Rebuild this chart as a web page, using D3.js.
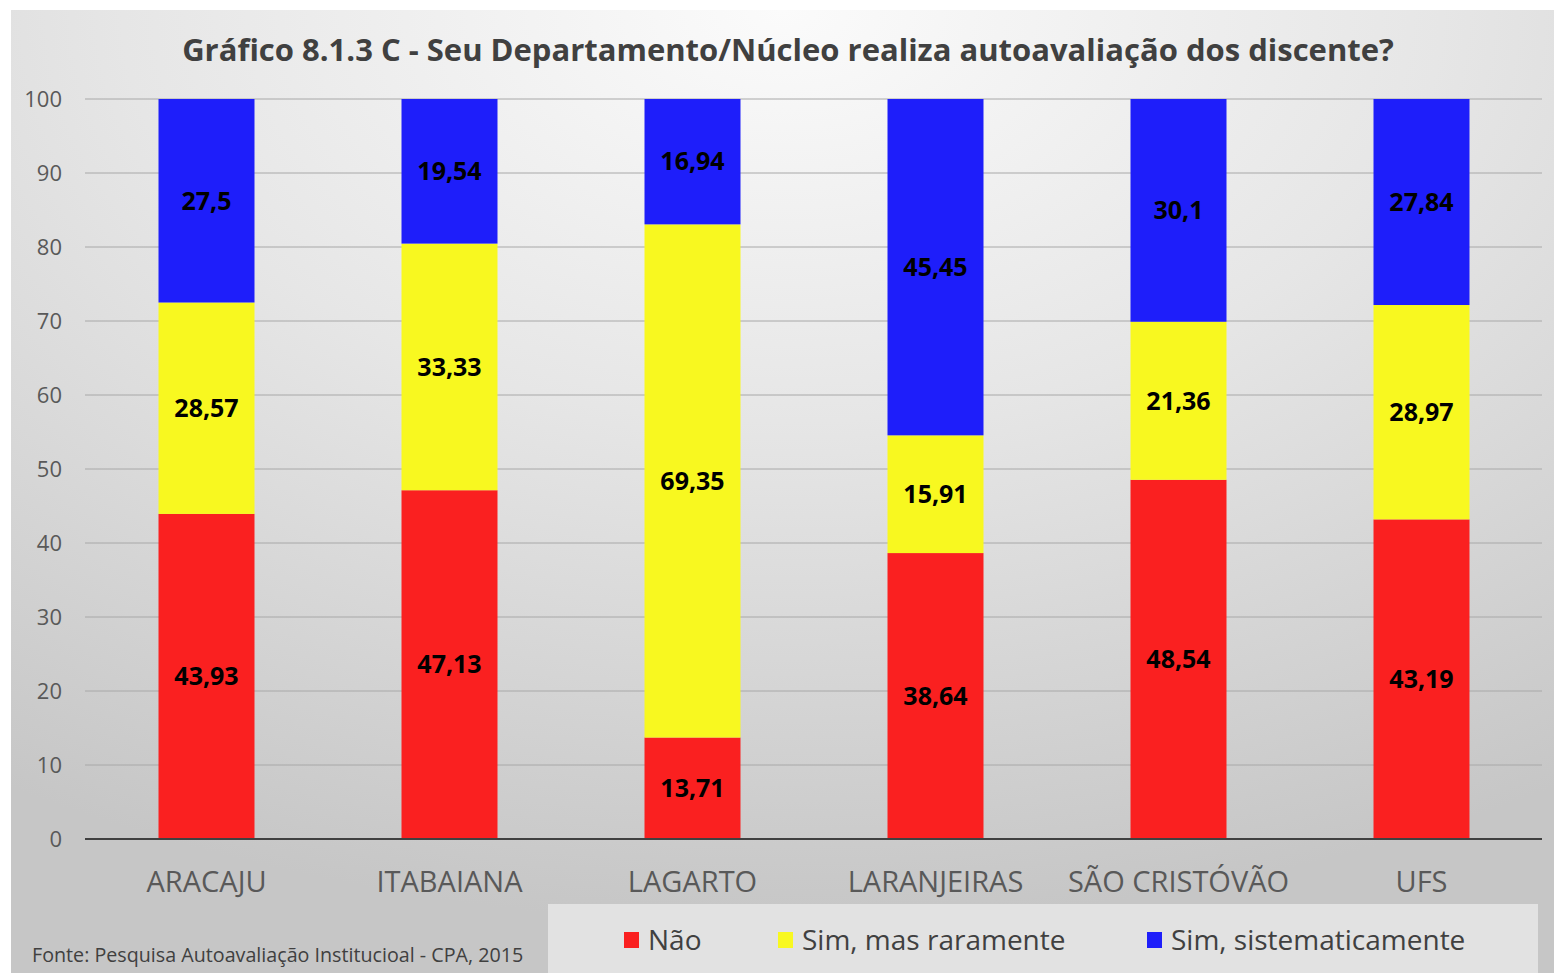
<!DOCTYPE html>
<html>
<head>
<meta charset="utf-8">
<script src="https://cdn.jsdelivr.net/npm/d3@7"></script>
<style>
  html, body { margin: 0; padding: 0; background: #ffffff; }
  svg { display: block; }
</style>
</head>
<body>
<script>
// Campus categories and the three answer shares (percent)
const categories = ["ARACAJU", "ITABAIANA", "LAGARTO", "LARANJEIRAS", "SÃO CRISTÓVÃO", "UFS"];
const nao = [43.93, 47.13, 13.71, 38.64, 48.54, 43.19];
const simRaramente = [28.57, 33.33, 69.35, 15.91, 21.36, 28.97];
const simSistematicamente = [27.5, 19.54, 16.94, 45.45, 30.1, 27.84];
const seriesNames = ["Não", "Sim, mas raramente", "Sim, sistematicamente"];
const yTicks = [0, 10, 20, 30, 40, 50, 60, 70, 80, 90, 100];

const W = 1554, H = 973;
const colors = ["#fa2020", "#f8f820", "#1e1efa"];
const font = "'Open Sans', 'Noto Sans', sans-serif";

const svg = d3.select("body").append("svg").attr("width", W).attr("height", H);

// Panel background: soft radial shading
const defs = svg.append("defs");
const grad = defs.append("radialGradient").attr("id", "bg")
  .attr("cx", "50%").attr("cy", "0%").attr("r", "95%")
  .attr("fx", "50%").attr("fy", "0%");
grad.append("stop").attr("offset", "0%").attr("stop-color", "#fbfbfb");
grad.append("stop").attr("offset", "45%").attr("stop-color", "#e6e6e6");
grad.append("stop").attr("offset", "100%").attr("stop-color", "#c6c6c6");

svg.append("rect").attr("x", 11).attr("y", 10).attr("width", W - 11).attr("height", H - 10)
  .attr("fill", "url(#bg)");

const x = d3.scaleBand().domain(categories).range([85, 1543]).paddingInner(0.605).paddingOuter(0.3025);
const y = d3.scaleLinear().domain([0, 100]).range([839, 99]);

// Gridlines
svg.append("g").selectAll("line").data(yTicks.filter(t => t > 0)).join("line")
  .attr("x1", 85).attr("x2", 1542)
  .attr("y1", d => y(d)).attr("y2", d => y(d))
  .attr("stroke", "#a8a8a8").attr("stroke-width", 1);

// Y axis labels
const yAxis = d3.axisLeft(y).tickValues(yTicks).tickSize(0).tickPadding(0);
const gy = svg.append("g").attr("transform", "translate(62,0)").call(yAxis);
gy.select(".domain").remove();
gy.selectAll("text").attr("font-family", font).attr("font-size", 22).attr("fill", "#595959");

// Stacked data
const rows = categories.map((c, i) => ({ cat: c, nao: nao[i], rar: simRaramente[i], sis: simSistematicamente[i] }));
const stack = d3.stack().keys(["nao", "rar", "sis"]);
const layers = stack(rows);

const gBars = svg.append("g");
layers.forEach((layer, li) => {
  gBars.append("g").selectAll("rect").data(layer).join("rect")
    .attr("x", d => x(d.data.cat))
    .attr("width", x.bandwidth())
    .attr("y", d => y(d[1]))
    .attr("height", d => y(d[0]) - y(d[1]))
    .attr("fill", colors[li]);
});

// Value labels, centred in each segment
layers.forEach(layer => {
  svg.append("g").selectAll("text").data(layer).join("text")
    .attr("x", d => x(d.data.cat) + x.bandwidth() / 2)
    .attr("y", d => y((d[0] + d[1]) / 2))
    .attr("dy", "0.35em")
    .attr("text-anchor", "middle")
    .attr("font-family", font).attr("font-weight", "bold").attr("font-size", 25)
    .attr("fill", "#000")
    .text(d => String(d.data[layer.key]).replace(".", ","));
});

// Baseline
svg.append("line").attr("x1", 85).attr("x2", 1542).attr("y1", y(0)).attr("y2", y(0))
  .attr("stroke", "#404040").attr("stroke-width", 2);

// Category axis labels
const xAxis = d3.axisBottom(x).tickSize(0).tickPadding(0);
const gx = svg.append("g").attr("transform", "translate(0,882)").call(xAxis);
gx.select(".domain").remove();
gx.selectAll("text").attr("dy", "0.35em").attr("font-family", font).attr("font-size", 29).attr("fill", "#595959");

// Title
svg.append("text").attr("x", 788).attr("y", 50).attr("dy", "0.35em")
  .attr("text-anchor", "middle").attr("font-family", font).attr("font-weight", "bold")
  .attr("font-size", 31).attr("fill", "#404040")
  .text("Gráfico 8.1.3 C - Seu Departamento/Núcleo realiza autoavaliação dos discente?");

// Legend panel
svg.append("rect").attr("x", 548).attr("y", 904).attr("width", 990).attr("height", 69).attr("fill", "#e2e2e2");
const legendX = [624, 778, 1147];
const lg = svg.append("g");
seriesNames.forEach((name, i) => {
  lg.append("rect").attr("x", legendX[i]).attr("y", 932).attr("width", 15).attr("height", 16).attr("fill", colors[i]);
  lg.append("text").attr("x", legendX[i] + 24).attr("y", 940).attr("dy", "0.35em")
    .attr("font-family", font).attr("font-size", 28).attr("fill", "#404040").text(name);
});

// Source note
svg.append("text").attr("x", 32).attr("y", 955).attr("dy", "0.35em")
  .attr("font-family", font).attr("font-size", 19.7).attr("fill", "#404040")
  .text("Fonte: Pesquisa Autoavaliação Institucioal - CPA, 2015");
</script>
</body>
</html>
